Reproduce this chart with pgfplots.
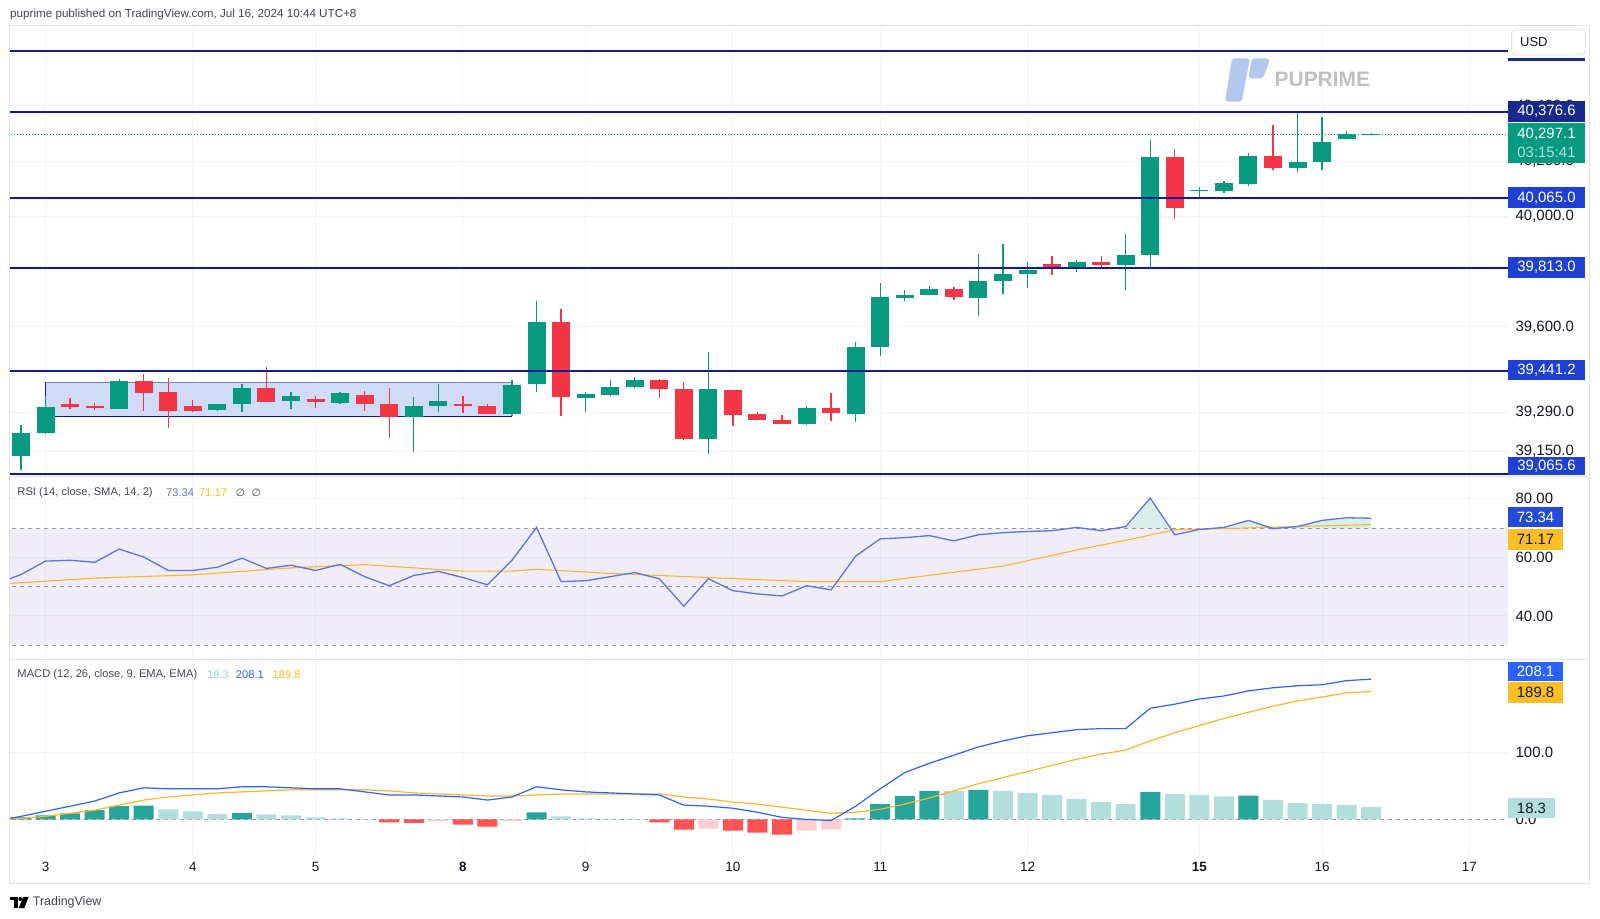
\documentclass[border=0pt]{standalone}
\usepackage{pgfplots}
\pgfplotsset{compat=1.18}
\usepackage{pgfplotstable}
\usepackage{fontspec}
\setmainfont{Liberation Sans}
\newfontfamily\dejavu{DejaVu Sans}
\definecolor{up}{HTML}{089981}
\definecolor{dn}{HTML}{F23645}
\definecolor{lvl}{RGB}{13,27,160}
\definecolor{lvlbox}{RGB}{30,64,212}
\definecolor{lvlboxd}{RGB}{25,40,140}
\definecolor{gridc}{HTML}{F0F3FA}
\definecolor{sepc}{HTML}{E0E3EB}
\definecolor{rsic}{RGB}{90,115,230}
\definecolor{rsibox}{RGB}{35,75,215}
\definecolor{amber}{HTML}{FBBF24}
\definecolor{sigc}{HTML}{FBB62E}
\definecolor{macdc}{HTML}{2962FF}
\definecolor{hdark}{HTML}{26A69A}
\definecolor{hlight}{HTML}{B2DFDB}
\definecolor{hred}{HTML}{FF5252}
\definecolor{hpink}{HTML}{FFCDD2}
\definecolor{bandc}{HTML}{7E57C2}
\definecolor{boxfill}{RGB}{209,219,245}
\definecolor{boxtop}{RGB}{124,129,179}
\definecolor{txt}{HTML}{131722}
\definecolor{txtg}{HTML}{434651}
\definecolor{dashc}{HTML}{9598A1}
\definecolor{wm}{RGB}{180,199,236}
\definecolor{wmt}{RGB}{192,192,192}

% candles: index, open, high, low, close
\pgfplotstableread{
i o h l c
0 39132 39243 39080 39215
1 39214 39351 39212 39309
4 39303 39410 39302 39404
8 39300 39321 39297 39320
9 39319 39393 39293 39378
11 39330 39364 39301 39349
13 39325 39364 39322 39360
16 39273 39345 39147 39313
17 39312 39393 39290 39331
20 39285 39408 39284 39390
21 39393 39695 39364 39616
23 39344 39365 39293 39357
24 39353 39408 39350 39383
25 39381 39417 39377 39409
28 39195 39509 39141 39374
32 39247 39312 39246 39306
34 39286 39544 39257 39528
35 39527 39759 39494 39708
36 39704 39733 39692 39715
37 39715 39748 39714 39737
39 39704 39865 39640 39766
40 39767 39900 39719 39791
41 39792 39833 39742 39804
43 39810 39841 39800 39836
45 39825 39936 39732 39861
46 39860 40276 39814 40215
48 40091 40105 40068 40095
49 40092 40129 40085 40122
50 40118 40229 40111 40218
52 40174 40376 40159 40196
53 40196 40359 40166 40270
54 40281 40310 40279 40299
55 40294 40300 40293 40298
}\greentab
\pgfplotstableread{
i o h l c
2 39322 39344 39303 39311
3 39314 39325 39300 39305
5 39404 39428 39297 39362
6 39363 39413 39232 39297
7 39314 39335 39293 39297
10 39378 39454 39328 39329
12 39339 39350 39307 39327
14 39355 39368 39297 39319
15 39319 39378 39199 39273
18 39319 39350 39289 39315
19 39313 39320 39283 39284
22 39616 39663 39278 39345
26 39409 39411 39342 39375
27 39376 39402 39189 39195
29 39371 39372 39242 39282
30 39283 39292 39261 39262
31 39263 39281 39248 39248
33 39306 39359 39260 39287
38 39737 39743 39697 39708
42 39826 39855 39789 39815
44 39836 39858 39814 39825
47 40214 40244 39989 40030
51 40218 40329 40166 40174
}\redtab

\pgfplotstableread{
i v
-1 51.0
0 54.1
1 58.7
2 59.0
3 58.3
4 62.8
5 60.1
6 55.5
7 55.5
8 56.6
9 59.7
10 56.2
11 57.3
12 55.5
13 57.6
14 53.4
15 50.3
16 53.8
17 55.2
18 53.1
19 50.6
20 59.0
21 70.2
22 51.7
23 52.0
24 53.4
25 54.8
26 52.7
27 43.3
28 52.7
29 48.6
30 47.5
31 46.8
32 50.3
33 48.9
34 60.4
35 66.3
36 66.7
37 67.4
38 65.6
39 67.7
40 68.4
41 68.8
42 69.1
43 70.2
44 69.1
45 70.5
46 80.2
47 67.7
48 69.5
49 70.2
50 72.6
51 69.8
52 70.5
53 72.6
54 73.5
55 73.34
}\rsitab
\pgfplotstableread{
i v
-1 50.8
3 52.9
7 54.0
11 56.4
14 57.5
18 55.3
20 55.3
21 55.9
24 54.5
28 53.1
32 51.7
35 51.7
36 52.8
40 57.0
43 62.5
45 65.8
47 69.4
49 69.8
52 70.5
55 71.17
}\rsismatab

\pgfplotstableread{
i v
-1 -2
0 4.5
1 12.1
2 19.6
3 27.2
4 39.3
5 46.9
6 45.4
7 45.4
8 45.4
9 48.4
10 48.4
11 46.9
12 45.4
13 45.4
14 40.8
15 36.3
16 36.3
17 34.8
18 33.3
19 28.7
20 33.3
21 48.4
22 43.9
23 40.8
24 39.3
25 37.8
26 36.3
27 21.2
28 19.6
29 16.6
30 10.6
31 3.0
32 0
33 -1.6
34 19.6
35 45.4
36 69.5
37 83.2
38 95.3
39 107.5
40 116.5
41 124.1
42 128.6
43 133.2
44 134.7
45 134.7
46 165.0
47 171.0
48 178.6
49 183.1
50 190.7
51 195.3
52 198.3
53 199.8
54 205.9
55 208.1
}\macdtab
\pgfplotstableread{
i v
-1 0
0 1.5
1 4.5
2 9.1
3 13.6
4 21.2
5 28.7
6 33.3
7 36.3
8 39.3
9 40.8
10 42.4
11 43.9
12 43.9
13 43.9
14 43.9
15 42.4
16 39.3
17 37.8
18 36.3
19 34.8
20 34.8
21 36.3
22 37.8
23 37.8
24 37.8
25 37.8
26 37.8
27 33.3
28 30.3
29 25.7
30 22.7
31 18.2
32 13.6
33 9.1
34 10.6
35 15.1
36 22.7
37 31.8
38 42.4
39 53.0
40 62.0
41 71.1
42 80.2
43 89.3
44 96.9
45 102.9
46 116.5
47 128.6
48 139.2
49 149.8
50 158.9
51 168.0
52 175.6
53 181.6
54 187.7
55 189.8
}\sigtab
\pgfplotstableread{
i v
0 3
1 6
2 9
3 13.6
4 19.7
5 20.5
9 9.5
21 10.6
34 1.5
35 22.7
36 34.8
37 42.4
39 43.9
46 40.9
50 35.2
}\hdarktab
\pgfplotstableread{
i v
6 15
7 12
8 8
10 7.5
11 6
12 3
13 1.5
14 0.6
22 4.5
23 1.5
24 0.8
25 0.4
38 42
40 42.4
41 39.4
42 36.3
43 30.3
44 25.7
45 22.7
47 37.8
48 36.3
49 34.2
51 28.8
52 24.2
53 22.7
54 21.2
55 18.3
}\hlighttab
\pgfplotstableread{
i v
15 -4.5
16 -5
18 -7.6
19 -10.6
26 -4.5
27 -15
29 -16.7
30 -19.7
31 -22.7
}\hredtab
\pgfplotstableread{
i v
17 -3
20 -3
28 -13.6
32 -16.7
33 -15
}\hpinktab

\pgfplotsset{
  tvpane/.style={
    anchor=south west, scale only axis, width=1498bp,
    xmin=-0.448, xmax=60.57,
    axis line style={draw=none}, tick style={draw=none}, major tick length=0pt,
    xtick={1,7,12,18,23,29,35,41,48,53,59},
    scaled y ticks=false, scaled x ticks=false,
    grid=major, major grid style={gridc, line width=1bp},
    yticklabel pos=right,
    yticklabel style={anchor=west, xshift=6bp, inner sep=1.5bp, text=txt,
      font=\fontsize{15}{15}\selectfont},
  },
  wick/.style={only marks, mark=*, mark size=0pt, mark options={draw=none, fill=none}, forget plot,
    error bars/.cd, y dir=plus, y explicit, error mark=none,
    error bar style={#1, line width=1.3bp}},
  body/.style={only marks, mark=*, mark size=0pt, mark options={draw=none, fill=none}, forget plot,
    error bars/.cd, y dir=plus, y explicit, error mark=none,
    error bar style={#1, line width=18bp}},
  hbar/.style={ybar, bar width=20bp, bar shift=0pt, fill=#1, draw=none, forget plot},
}

\begin{document}
\begin{tikzpicture}
\useasboundingbox (0bp,0bp) rectangle (1600bp,919bp);
\fill[white] (0bp,0bp) rectangle (1600bp,919bp);

% ---------------- price pane ----------------
\begin{axis}[tvpane, at={(10bp,442.5bp)}, height=450.5bp,
  ymin=39058.2, ymax=40689,
  xticklabels={},
  ytick={39150,39290,39600,40000,40200,40400},
  yticklabels={{39,150.0},{39,290.0},{39,600.0},{40,000.0},{40,200.0},{40,400.0}},
]
\addplot[draw=none, fill=boxfill, forget plot] coordinates {(1,39276) (20,39276) (20,39399) (1,39399)} -- cycle;
\addplot[boxtop, line width=1.2bp] coordinates {(1,39399) (20,39399) (20,39276)};
\addplot[lvl, line width=1.5bp] coordinates {(1,39399) (1,39276) (20,39276)};
\addplot[up, line width=1bp, dash pattern=on 1bp off 2bp] coordinates {(-1,40297.1) (62,40297.1)};
\addplot[wick=up] table[x=i, y=l, y error plus expr=\thisrow{h}-\thisrow{l}] {\greentab};
\addplot[wick=dn] table[x=i, y=l, y error plus expr=\thisrow{h}-\thisrow{l}] {\redtab};
\addplot[body=up] table[x=i, y=o, y error plus expr=\thisrow{c}-\thisrow{o}] {\greentab};
\addplot[body=dn] table[x=i, y=c, y error plus expr=\thisrow{o}-\thisrow{c}] {\redtab};
\addplot[lvl, line width=2bp] coordinates {(-1,40598.5) (62,40598.5)};
\addplot[lvl, line width=2bp] coordinates {(-1,40376.6) (62,40376.6)};
\addplot[lvl, line width=2bp] coordinates {(-1,40065.0) (62,40065.0)};
\addplot[lvl, line width=2bp] coordinates {(-1,39813.0) (62,39813.0)};
\addplot[lvl, line width=2bp] coordinates {(-1,39441.2) (62,39441.2)};
\addplot[lvl, line width=2bp] coordinates {(-1,39065.6) (62,39065.6)};
\end{axis}

% ---------------- RSI pane ----------------
\begin{axis}[tvpane, at={(10bp,259bp)}, height=183.5bp,
  ymin=24.95, ymax=87.58,
  xticklabels={},
  ytick={40,60,80}, yticklabels={40.00,60.00,80.00},
]
\addplot[draw=none, fill=bandc, fill opacity=0.1] coordinates {(-1,30) (62,30) (62,70) (-1,70)} -- cycle;
\addplot[dashc, line width=1bp, dash pattern=on 4bp off 4bp] coordinates {(-1,70) (62,70)};
\addplot[dashc, line width=1bp, dash pattern=on 4bp off 4bp] coordinates {(-1,50) (62,50)};
\addplot[dashc, line width=1bp, dash pattern=on 4bp off 4bp] coordinates {(-1,30) (62,30)};
\addplot[draw=none, fill=up, fill opacity=0.15] coordinates {(44.64,70) (45,70.5) (46,80.2) (46.82,70)} -- cycle;
\addplot[draw=none, fill=up, fill opacity=0.15] coordinates {(48.71,70) (49,70.2) (50,72.6) (50.93,70)} -- cycle;
\addplot[draw=none, fill=up, fill opacity=0.15] coordinates {(51.29,70) (52,70.5) (53,72.6) (54,73.5) (55,73.34) (55,70)} -- cycle;
\addplot[sigc, line width=1.1bp] table[x=i, y=v] {\rsismatab};
\addplot[rsic, line width=1.3bp] table[x=i, y=v] {\rsitab};
\end{axis}

% ---------------- MACD pane ----------------
\begin{axis}[tvpane, at={(10bp,64bp)}, height=195bp,
  ymin=-52.8, ymax=236.5,
  xticklabels={3,4,5,\textbf{8},9,10,11,12,\textbf{15},16,17},
  xticklabel style={anchor=center, yshift=-12bp, text=txt, font=\fontsize{13.5}{14}\selectfont},
  ytick={0,100}, yticklabels={0.0,100.0},
]
\addplot[dashc, line width=1bp, dash pattern=on 4bp off 4bp] coordinates {(-1,0) (62,0)};
\addplot[hbar=hdark] table[x=i, y=v] {\hdarktab};
\addplot[hbar=hlight] table[x=i, y=v] {\hlighttab};
\addplot[hbar=hred] table[x=i, y=v] {\hredtab};
\addplot[hbar=hpink] table[x=i, y=v] {\hpinktab};
\addplot[sigc, line width=1.2bp] table[x=i, y=v] {\sigtab};
\addplot[macdc, line width=1.2bp] table[x=i, y=v] {\macdtab};
\end{axis}

\begin{scope}[x=1bp, y=1bp]
% header
\node[anchor=west, inner sep=0, text=txtg, font=\fontsize{11.7}{12}\selectfont] at (10,904.7)
  {puprime published on TradingView.com, Jul 16, 2024 10:44 UTC+8};

% watermark
\fill[wm, rounded corners=3bp] (1232,860.7) -- (1250,860.7) -- (1241.7,817.3) -- (1225,817.3) -- cycle;
\fill[wm, rounded corners=3bp] (1252,860.7) -- (1270,860.7) -- (1263.3,840.7) -- (1248.3,840.7) -- cycle;
\node[anchor=west, inner sep=0, text=wmt, font=\fontsize{21}{21}\selectfont\bfseries] at (1274.5,840) {PUPRIME};

% frame and separators
\draw[sepc, line width=1bp] (9.2,35.3) rectangle (1589,893.5);
\draw[sepc, line width=1bp] (9.2,442.5) -- (1589,442.5);
\draw[sepc, line width=1bp] (9.2,259) -- (1589,259);

% legends
\node[anchor=west, inner sep=0, text=txtg, font=\fontsize{11.2}{12}\selectfont] at (17.3,426.1) {RSI (14, close, SMA, 14, 2)};
\node[anchor=west, inner sep=0, text=rsic, font=\fontsize{11.2}{12}\selectfont] at (166,426.1) {73.34};
\node[anchor=west, inner sep=0, text=amber, font=\fontsize{11.2}{12}\selectfont] at (199,426.1) {71.17};
\node[anchor=west, inner sep=0, text=txtg, font=\fontsize{10.5}{12}\dejavu] at (235.7,426.1) {∅\ \ ∅};
\node[anchor=west, inner sep=0, text=txtg, font=\fontsize{11.2}{12}\selectfont] at (17.3,244.5) {MACD (12, 26, close, 9, EMA, EMA)};
\node[anchor=west, inner sep=0, text=hlight!80!hdark, font=\fontsize{11.2}{12}\selectfont] at (207,244.5) {18.3};
\node[anchor=west, inner sep=0, text=macdc, font=\fontsize{11.2}{12}\selectfont] at (235.7,244.5) {208.1};
\node[anchor=west, inner sep=0, text=amber, font=\fontsize{11.2}{12}\selectfont] at (272.4,244.5) {189.8};

% right scale: USD button and boxes
\filldraw[fill=white, draw=sepc, line width=1bp, rounded corners=3bp] (1511.7,864) rectangle (1585,889);
\node[anchor=west, inner sep=0, text=txt, font=\fontsize{13}{13}\selectfont] at (1520,876.5) {USD};
\fill[lvlboxd] (1508,858.3) rectangle (1585,861);
\begin{scope}[every node/.style={inner sep=0, font=\fontsize{15}{15}\selectfont}]
\fill[lvlboxd] (1508,797) rectangle (1585,818);
\node[text=white] at (1546.5,807.5) {40,376.6};
\fill[up] (1508,756) rectangle (1585,796);
\node[text=white] at (1546.5,785) {40,297.1};
\node[text={rgb,255:red,175;green,225;blue,212}] at (1546.5,766.7) {03:15:41};
\fill[lvlbox] (1508,711) rectangle (1585,731.5);
\node[text=white] at (1546.5,721.2) {40,065.0};
\fill[lvlbox] (1508,641.2) rectangle (1585,661.8);
\node[text=white] at (1546.5,651.5) {39,813.0};
\fill[lvlbox] (1508,538.7) rectangle (1585,559.3);
\node[text=white] at (1546.5,549) {39,441.2};
\fill[lvlbox] (1508,444) rectangle (1585,462.3);
\node[text=white] at (1546.5,453.2) {39,065.6};
% RSI
\fill[rsibox] (1508,391.7) rectangle (1563.3,411.7);
\node[text=white] at (1535.6,401.7) {73.34};
\fill[amber] (1508,369) rectangle (1563.3,390);
\node[text=txt] at (1535.6,379.5) {71.17};
% MACD
\fill[macdc] (1508,238.3) rectangle (1563.3,257.3);
\node[text=white] at (1535.6,247.8) {208.1};
\fill[amber] (1508,215.7) rectangle (1563.3,236.7);
\node[text=txt] at (1535.6,226.2) {189.8};
\fill[hlight] (1508,100.7) rectangle (1555,121.3);
\node[text=txt] at (1531.5,111) {18.3};
\end{scope}

% footer logo
\fill[black] (10,22) rectangle (17.5,18.5);
\fill[black] (13.5,18.5) rectangle (17.5,11);
\fill[black] (20.3,20) circle (2bp);
\fill[black] (23.2,22) -- (28.6,22) -- (24.2,11) -- (18.8,11) -- cycle;
\node[anchor=west, inner sep=0, text=txtg, font=\fontsize{12.5}{13}\selectfont] at (32.7,17) {TradingView};
\end{scope}
\end{tikzpicture}
\end{document}
